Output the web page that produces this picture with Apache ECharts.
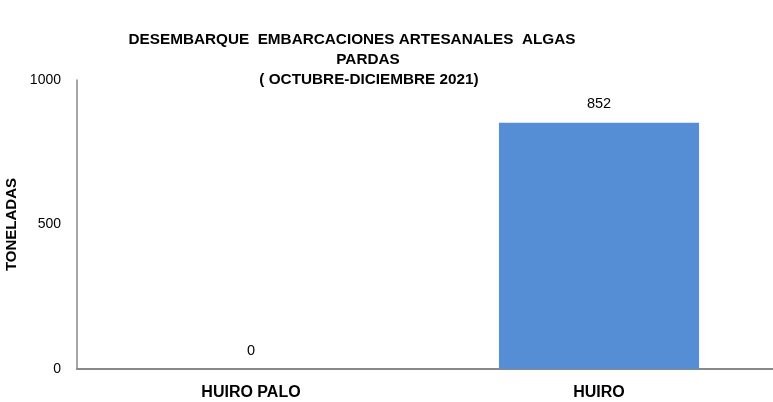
<!DOCTYPE html>
<html>
<head>
<meta charset="utf-8">
<script src="https://cdn.jsdelivr.net/npm/echarts@6/dist/echarts.min.js"></script>
<style>
  html, body { margin: 0; padding: 0; background: #fff; }
  #chart { width: 773px; height: 402px; }
</style>
</head>
<body>
<div id="chart"></div>
<script>
// datos
const categorias = ['HUIRO PALO', 'HUIRO']
const toneladas = [0, 852]
const titulo = [
  'DESEMBARQUE  EMBARCACIONES ARTESANALES  ALGAS',
  'PARDAS',
  '( OCTUBRE-DICIEMBRE 2021)'
]

const chart = echarts.init(document.getElementById('chart'))

const fuente = 'Liberation Sans, Arial, sans-serif'

chart.setOption({
  animation: false,
  title: [
    { text: titulo[0], left: 352, top: 32, textAlign: 'center' },
    { text: titulo[1], left: 368, top: 52, textAlign: 'center' },
    { text: titulo[2], left: 369, top: 72, textAlign: 'center' }
  ].map(t => ({
    ...t,
    padding: 0,
    textStyle: { fontFamily: fuente, fontSize: 15.3, fontWeight: 'bold', color: '#000' }
  })),
  grid: { left: 77, right: 0, top: 80, bottom: 33, containLabel: false, outerBoundsMode: 'none' },
  xAxis: {
    type: 'category',
    data: categorias,
    axisLine: { lineStyle: { color: '#898989', width: 2 } },
    axisTick: { show: false },
    axisLabel: {
      fontFamily: fuente, fontSize: 16, fontWeight: 'bold', color: '#000', margin: 16
    }
  },
  yAxis: {
    type: 'value',
    min: 0,
    max: 1000,
    interval: 500,
    name: 'TONELADAS',
    nameLocation: 'middle',
    nameGap: 56,
    nameTextStyle: { fontFamily: fuente, fontSize: 15, fontWeight: 'bold', color: '#000' },
    axisLine: { show: true, lineStyle: { color: '#898989', width: 1.5 } },
    axisTick: { show: false },
    splitLine: { show: false },
    axisLabel: {
      fontFamily: fuente, fontSize: 14, color: '#000', margin: 16,
      formatter: v => String(v)
    }
  },
  series: [{
    type: 'bar',
    data: toneladas,
    barWidth: '57.5%',
    itemStyle: { color: '#558ED5' },
    label: {
      show: true,
      position: 'top',
      distance: 11,
      fontFamily: fuente,
      fontSize: 14.5,
      color: '#000'
    }
  }]
})
</script>
</body>
</html>
